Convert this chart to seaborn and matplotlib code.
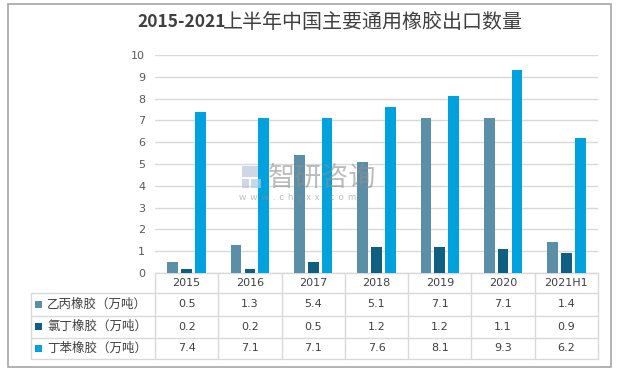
import matplotlib
matplotlib.use("Agg")
import matplotlib.pyplot as plt
import seaborn as sns
import pandas as pd
from matplotlib.lines import Line2D
from matplotlib.patches import Rectangle

# ---- data ----
categories = ["2015", "2016", "2017", "2018", "2019", "2020", "2021H1"]
series_names = ["乙丙橡胶（万吨）", "氯丁橡胶（万吨）", "丁苯橡胶（万吨）"]
epdm = [0.5, 1.3, 5.4, 5.1, 7.1, 7.1, 1.4]
cr = [0.2, 0.2, 0.5, 1.2, 1.2, 1.1, 0.9]
sbr = [7.4, 7.1, 7.1, 7.6, 8.1, 9.3, 6.2]
yticks = list(range(0, 11))
title_num = "2015-2021"
title_cjk = "上半年中国主要通用橡胶出口数量"

colors = ["#5B8FA8", "#0E5F82", "#00A2DD"]

sns.set_theme(style="white")
plt.rcParams['font.family'] = ['Noto Sans CJK SC', 'DejaVu Sans']

values = [epdm, cr, sbr]
rows = []
for name, vals in zip(series_names, values):
    for c, v in zip(categories, vals):
        rows.append({"cat": c, "series": name, "value": v})
df = pd.DataFrame(rows)

W, H = 619, 370
fig = plt.figure(figsize=(W / 100, H / 100), dpi=100)
fig.patch.set_facecolor("white")

# pixel geometry
x0, x1 = 155, 598
y_top, y_bot = 55, 273
ax = fig.add_axes([x0 / W, (H - y_bot) / H, (x1 - x0) / W, (y_bot - y_top) / H])

sns.barplot(data=df, x="cat", y="value", hue="series", order=categories,
            hue_order=series_names, palette=colors, width=0.66, gap=0.23,
            legend=False, ax=ax, saturation=1, linewidth=0)
ax.set_xlim(-0.5, len(categories) - 0.5)
ax.set_ylim(0, 10)
ax.set_yticks(yticks)
ax.set_yticklabels([str(t) for t in yticks], color="#595959", fontsize=8,
                   family=['DejaVu Sans'])
ax.tick_params(axis="y", length=0, pad=7)
ax.set_xticks([])
ax.set_xlabel("")
ax.set_ylabel("")
ax.grid(axis="y", color="#D9D9D9", linewidth=1)
ax.set_axisbelow(True)
ax.patch.set_alpha(0)
for s in ax.spines.values():
    s.set_visible(False)

# overlay (background) in pixel coordinates
ov = fig.add_axes([0, 0, 1, 1], zorder=-1)
ov.set_xlim(0, W)
ov.set_ylim(H, 0)
ov.axis("off")

# watermark overlay (on top)
wm = fig.add_axes([0, 0, 1, 1], zorder=10)
wm.set_xlim(0, W)
wm.set_ylim(H, 0)
wm.axis("off")

# outer frame
ov.add_patch(Rectangle((8, 3.5), 603, 363, fill=False, edgecolor="#A6A6A6", linewidth=1.2))

# title
ov.text(137, 22, title_num, ha="left", va="center", fontsize=12.5,
        fontweight="bold", color="#404040")
ov.text(223, 22, title_cjk, ha="left", va="center", fontsize=14.4,
        color="#404040")

# watermark
wm.text(268, 178, "智研咨询", ha="left", va="center", fontsize=19.5,
        color="#8F8F8F", alpha=0.6)
wm.text(239, 197, "w  w  w  .  c  h  y  x  x  .  c  o  m", ha="left", va="center",
        fontsize=6.5, color="#8F8F8F", alpha=0.6)
wm.add_patch(Rectangle((242, 166), 16, 11, facecolor="#B8C6DC", edgecolor="none", alpha=0.7))
wm.add_patch(Rectangle((242, 179), 7, 9, facecolor="#B8C6DC", edgecolor="none", alpha=0.7))
wm.add_patch(Rectangle((251, 179), 10, 9, facecolor="#A8CBEA", edgecolor="none", alpha=0.7))

# data table
n = len(categories)
cw = (x1 - x0) / n
row_lines = [293, 315.5, 337.5, 359]
tbl_left = 31
gc = "#D9D9D9"
for i in range(n + 1):
    ov.add_line(Line2D([x0 + i * cw] * 2, [y_bot, row_lines[-1]], color=gc, lw=1))
ov.add_line(Line2D([tbl_left] * 2, [row_lines[0], row_lines[-1]], color=gc, lw=1))
for y in row_lines:
    ov.add_line(Line2D([tbl_left, x1], [y, y], color=gc, lw=1))
ov.add_line(Line2D([x0, x1], [y_bot, y_bot], color=gc, lw=1))

# header
for i, c in enumerate(categories):
    ov.text(x0 + (i + 0.5) * cw, (y_bot + row_lines[0]) / 2, c, ha="center",
            va="center", fontsize=8, color="#404040", family=['DejaVu Sans'])
# rows
for r, (name, vals, col) in enumerate(zip(series_names, values, colors)):
    yc = (row_lines[r] + row_lines[r + 1]) / 2
    ov.add_patch(Rectangle((35, yc - 3.5), 7, 7, facecolor=col, edgecolor="none"))
    ov.text(47, yc, name, ha="left", va="center", fontsize=9, color="#404040")
    for i, v in enumerate(vals):
        ov.text(x0 + (i + 0.5) * cw, yc, f"{v}", ha="center", va="center",
                fontsize=8, color="#404040", family=['DejaVu Sans'])

fig.savefig("out.png", dpi=100)
